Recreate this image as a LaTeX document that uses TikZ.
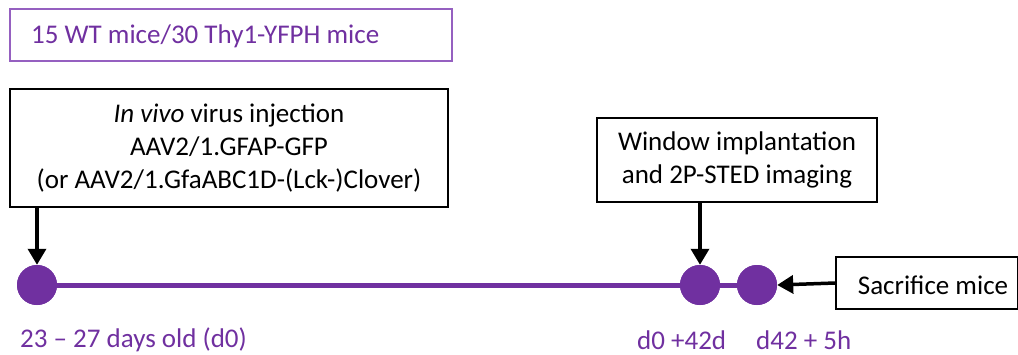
\documentclass[tikz,border=0pt]{standalone}
\usepackage{fontspec}
\setmainfont{Carlito}
\usetikzlibrary{arrows.meta}
\definecolor{purp}{HTML}{7030A0}
\definecolor{purpborder}{HTML}{9560C0}
\tikzset{
  x=1pt, y=-1pt,
  txt/.style={font=\fontsize{27}{33}\selectfont, inner sep=0pt},
  blackbox/.style={draw=black, line width=1.5pt, txt, align=center},
  dot/.style={circle, fill=purp, minimum size=40pt, inner sep=0pt},
  arr/.style={line width=3.5pt, -{Triangle[width=18pt,length=16pt]}},
  plabel/.style={txt, text=purp, anchor=west},
}
\begin{document}
\begin{tikzpicture}
\useasboundingbox (0,0) rectangle (1018,354);
% top label box
\node[draw=purpborder, line width=1.5pt, minimum width=442pt, minimum height=52pt, inner sep=0pt] (group) at (231,35) {};
\node[plabel] (grouptxt) at (31,36) {15 WT mice/30 Thy1-YFPH mice};
% boxes
\node[blackbox, minimum width=438pt, minimum height=118pt] (inj) at (229,148) {\textit{In vivo} virus injection\\AAV2/1.GFAP-GFP\\(or AAV2/1.GfaABC1D-(Lck-)Clover)};
\node[blackbox, minimum width=280pt, minimum height=84pt] (win) at (737,160) {Window implantation\\and 2P-STED imaging};
\node[draw=black, line width=1.5pt, minimum width=182pt, minimum height=52pt, inner sep=0pt] (sac) at (927,283) {};
\node[txt] (sactxt) at (933,285) {Sacrifice mice};
% timeline
\node[dot] (d0) at (37,285) {};
\node[dot] (d42) at (700,285) {};
\node[dot] (d42h) at (757,285) {};
\draw[purp, line width=5pt] (d0.center) -- (d42h.center);
\node[dot] at (37,285) {};
\node[dot] at (700,285) {};
\node[dot] at (757,285) {};
% arrows
\coordinate (injfoot) at (37,207);
\coordinate (winfoot) at (700,202);
\draw[arr] (injfoot) -- (d0.north);
\draw[arr] (winfoot) -- (d42.north);
\draw[arr] (sac.west) -- (d42h.east);
% labels
\node[plabel] (l1) at (20,340) {23 -- 27 days old (d0)};
\node[plabel] (l2) at (637,340) {d0 +42d};
\node[plabel] (l3) at (756,340) {d42 + 5h};
\end{tikzpicture}
\end{document}
